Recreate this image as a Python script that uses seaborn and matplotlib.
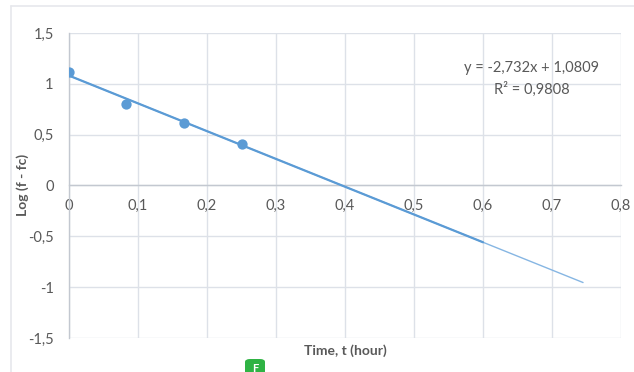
import matplotlib
matplotlib.use("Agg")
import matplotlib.pyplot as plt
import seaborn as sns
import pandas as pd
from matplotlib.ticker import FuncFormatter, MultipleLocator
from matplotlib.lines import Line2D
from matplotlib.patches import FancyBboxPatch

# Measured data: time (hours) vs log(f - fc)
time_h = [0.0, 0.0833, 0.1667, 0.25]
log_f_fc = [1.12, 0.80, 0.61, 0.41]

# Linear trendline (as reported by the fit)
slope = -2.732
intercept = 1.0809
r_squared = 0.9808
trend_x_main = [0.0, 0.6]
trend_x_forecast = [0.0, 0.745]

sns.set_theme(style="white")
plt.rcParams["font.family"] = ["Lato", "DejaVu Sans"]

BLUE = "#5B9BD5"
GRID = "#dde1e8"
TEXT = "#595959"

W, H = 634, 372
fig = plt.figure(figsize=(W / 100, H / 100), dpi=100)
ax = fig.add_axes([69 / W, 1 - 338 / H, (621 - 69) / W, (338 - 33) / H])

pts = pd.DataFrame({"t": time_h, "y": log_f_fc})
trend_fore = pd.DataFrame({"t": trend_x_forecast,
                           "y": [slope * x + intercept for x in trend_x_forecast]})
trend_main = pd.DataFrame({"t": trend_x_main,
                           "y": [slope * x + intercept for x in trend_x_main]})

sns.lineplot(data=trend_fore, x="t", y="y", ax=ax, color="#86b6e3", lw=1.0, zorder=3)
sns.lineplot(data=trend_main, x="t", y="y", ax=ax, color=BLUE, lw=1.6, zorder=4)
sns.scatterplot(data=pts, x="t", y="y", ax=ax, color=BLUE, s=55,
                edgecolor=BLUE, linewidth=0, zorder=5)

ax.set_xlim(0, 0.8)
ax.set_ylim(-1.5, 1.5)
ax.xaxis.set_major_locator(MultipleLocator(0.1))
ax.yaxis.set_major_locator(MultipleLocator(0.5))

def comma_fmt(v, _pos):
    s = f"{v:.1f}".rstrip("0").rstrip(".")
    if s in ("-0", ""):
        s = "0"
    return s.replace(".", ",")

ax.xaxis.set_major_formatter(FuncFormatter(comma_fmt))
ax.yaxis.set_major_formatter(FuncFormatter(comma_fmt))

ax.grid(True, color=GRID, lw=1.0)
ax.set_axisbelow(True)
for side in ("top", "right"):
    ax.spines[side].set_visible(False)
ax.spines["bottom"].set_position(("data", 0))
ax.spines["bottom"].set_color("#c3c8d0")
ax.spines["left"].set_color("#c3c8d0")
ax.spines["bottom"].set_linewidth(1.0)
ax.spines["left"].set_linewidth(1.0)
ax.tick_params(axis="x", length=0, pad=10, labelsize=10.5, labelcolor=TEXT)
ax.tick_params(axis="y", length=0, pad=11, labelsize=10.5, labelcolor=TEXT)
ax.set_xlabel("")
ax.set_ylabel("")

fig.text(345 / W, 1 - 351 / H, "Time, t (hour)", ha="center", va="center",
         fontsize=10, fontweight="bold", color=TEXT)
fig.text(23 / W, 1 - 185 / H, "Log (f - fc)", ha="center", va="center",
         rotation=90, fontsize=10, fontweight="bold", color=TEXT)

eq = f"y = {slope:.3f}x + {intercept:.4f}".replace(".", ",")
r2 = f"R² = {r_squared:.4f}".replace(".", ",")
fig.text(532 / W, 1 - 68 / H, eq, ha="center", va="center", fontsize=10.5, color=TEXT)
fig.text(532 / W, 1 - 89 / H, r2, ha="center", va="center", fontsize=10.5, color=TEXT)

# Chart area frame
fig.add_artist(Line2D([11 / W, 1.0], [1 - 6 / H, 1 - 6 / H], transform=fig.transFigure,
                      color="#e6e8ec", lw=1.2))
fig.add_artist(Line2D([11 / W, 11 / W], [0, 1 - 6 / H], transform=fig.transFigure,
                      color="#e6e8ec", lw=1.2))

# Small green badge at the bottom edge
badge = FancyBboxPatch((245 / W, -7 / H), 20 / W, 20 / H, transform=fig.transFigure,
                       boxstyle="round,pad=0,rounding_size=0.008",
                       facecolor="#2fb344", edgecolor="none")
fig.add_artist(badge)
fig.text(255 / W, 4 / H, "F", ha="center", va="center", fontsize=8,
         color="white", fontweight="bold")

fig.savefig("out.png", dpi=100)
